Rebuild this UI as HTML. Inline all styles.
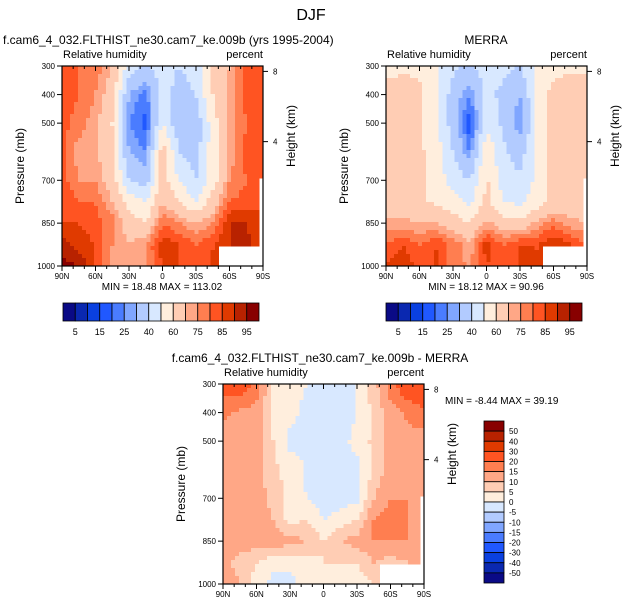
<!DOCTYPE html>
<html><head><meta charset="utf-8">
<style>
body{margin:0;background:#fff;width:622px;height:606px;overflow:hidden;font-family:"Liberation Sans",sans-serif}
svg{position:absolute;left:0;top:0}
</style></head>
<body>
<svg id="chart" width="622" height="606" viewBox="0 0 622 606"></svg>
<script>
const lats=[90,75,60,45,30,15,0,-15,-30,-45,-60,-75,-90];
const levels=[300,400,500,600,700,775,850,925,1000];
const modelRH=[
[80,80,78,70,45,38,45,40,45,60,70,82,85],
[82,80,75,65,30,22,45,35,40,60,72,82,85],
[82,78,72,60,25,18,50,32,32,55,72,80,85],
[82,72,72,60,30,25,65,40,35,55,72,82,85],
[82,75,75,65,40,35,65,50,40,55,75,80,85],
[85,80,80,70,55,50,70,60,50,65,80,82,85],
[85,85,82,78,65,60,80,75,70,75,90,90,85],
[92,88,85,75,70,75,88,85,80,85,90,92,85],
[97,95,85,72,70,75,85,85,80,85,90,90,85]];
const merraRH=[
[55,58,58,52,42,38,45,42,40,50,56,58,58],
[65,65,62,52,35,25,42,38,30,50,65,65,65],
[65,65,62,52,35,15,48,38,25,50,65,65,65],
[65,65,62,55,40,25,58,42,35,50,65,65,65],
[65,65,62,56,45,40,62,45,42,52,65,65,65],
[66,65,62,58,55,48,62,50,48,55,62,65,65],
[72,72,70,70,64,60,72,65,62,72,78,72,70],
[80,85,80,85,78,72,88,80,85,85,90,85,80],
[85,90,82,85,78,74,85,80,85,85,90,90,80]];
const diffRH=[
[22,25,18,5,3,0,-3,-5,0,8,18,25,28],
[16,14,13,4,2,-2,-5,-5,0,6,13,16,18],
[13,13,13,5,-2,0,-5,-2,2,6,13,13,13],
[13,13,13,6,3,-1,-5,-3,-2,6,13,13,13],
[12,12,13,8,3,0,-3,-2,-2,10,15,15,12],
[13,13,13,10,3,5,0,2,5,15,18,15,12],
[13,13,13,13,12,10,5,10,12,15,15,15,12],
[11,8,5,2,2,3,5,5,5,10,8,10,10],
[15,10,3,-2,-2,2,3,3,2,5,8,8,8]];
const rhLevels=[5,10,15,20,25,30,40,50,60,70,75,80,85,90,95];
const rhLabels=["5","15","25","40","60","75","85","95"];
const diffLevels=[-50,-40,-30,-20,-15,-10,-5,0,5,10,15,20,30,40,50];
const colors=["#0a0a86","#0a28b0","#0a40e0","#2058ff","#4a7cff","#80a6ff","#b2cbff","#d8e8ff","#ffeedd","#ffcdb4","#ffa786","#ff7e50","#ff5422","#e03a00","#b82200","#880000"];
const xTicks=["90N","60N","30N","0","30S","60S","90S"];
const pTicks=[300,400,500,700,850,1000];

const S=document.getElementById('chart');
const NS="http://www.w3.org/2000/svg";
function mk(tag,attrs,parent){const e=document.createElementNS(NS,tag);for(const k in attrs)e.setAttribute(k,attrs[k]);(parent||S).appendChild(e);return e;}
function txt(x,y,s,size,anchor,parent){const t=mk('text',{x:x,y:y,'font-size':size,'text-anchor':anchor||'start',fill:'#000'},parent);t.textContent=s;return t;}

function interp(grid,lat,p){
  let li=(90-lat)/15; li=Math.min(Math.max(li,0),11.999);
  let i0=Math.floor(li),fx=li-i0;
  let j0=0; while(j0<levels.length-2&&p>levels[j0+1])j0++;
  let fy=(p-levels[j0])/(levels[j0+1]-levels[j0]); fy=Math.min(Math.max(fy,0),1);
  const a=grid[j0][i0],b=grid[j0][i0+1],c=grid[j0+1][i0],d=grid[j0+1][i0+1];
  return a*(1-fx)*(1-fy)+b*fx*(1-fy)+c*(1-fx)*fy+d*fx*fy;
}
function colorFor(v,lv){let k=0;while(k<lv.length&&v>=lv[k])k++;return colors[k];}
function masked(lat,p){return (lat<-52&&lat>-85&&p>935)||(lat<-87&&p>690);}

function panel(name,x0,y0,grid,lv,title,titleX,titleAnchor){
  const W=201,H=200;
  const g=mk('g',{},S);
  
  
  const xs=lat=>x0+(90-lat)/180*W;
  const ys=p=>y0+(p-300)/700*H;
  const N=50,cw=W/N,ch=H/N;
  const field=mk('g',{'shape-rendering':'crispEdges'},g);
  
  
  for(let j=0;j<N;j++)for(let i=0;i<N;i++){
    const lat=90-(i+0.5)/N*180,p=300+(j+0.5)/N*700;
    if(masked(lat,p))continue;
    const v=interp(grid,lat,p);
    const r=mk('rect',{x:(xs(lat)-cw/2).toFixed(2),y:(ys(p)-ch/2).toFixed(2),width:(cw+0.3).toFixed(2),height:(ch+0.3).toFixed(2),fill:colorFor(v,lv)},field);
    
    
  }
  const fr=mk('rect',{x:x0,y:y0,width:W,height:H,fill:'none',stroke:'#000','stroke-width':1.2},g);
  
  
  for(let lat=90;lat>=-90;lat-=10){
    const major=lat%30===0;const L=major?5:3;
    mk('line',{x1:xs(lat),x2:xs(lat),y1:y0+H,y2:y0+H+L,stroke:'#000'},g);
    mk('line',{x1:xs(lat),x2:xs(lat),y1:y0,y2:y0+L,stroke:'#000'},g);
  }
  xTicks.forEach((s,k)=>{const t=txt(xs(90-k*30),y0+H+13,s,8,'middle',g);});
  pTicks.forEach(p=>{mk('line',{x1:x0-5,x2:x0,y1:ys(p),y2:ys(p),stroke:'#000'},g);
    const t=txt(x0-7,ys(p)+3,String(p),8,'end',g);});
  const pz=z=>1000*Math.exp(-z/7);
  [8,4].forEach(z=>{const y=ys(pz(z));mk('line',{x1:x0+W,x2:x0+W+5,y1:y,y2:y,stroke:'#000'},g);
    const t=txt(x0+W+10,y+3,String(z),8,'start',g);});
  const yt=txt(0,0,'Pressure (mb)',12,'middle',g);yt.setAttribute('transform',`translate(${x0-38},${y0+H/2}) rotate(-90)`);
  
  const ht=txt(0,0,'Height (km)',12,'middle',g);ht.setAttribute('transform',`translate(${x0+W+32},${y0+H/2-30}) rotate(-90)`);
  
  const l1=txt(x0+1,y0-8,'Relative humidity',11,'start',g);
  const l2=txt(x0+W,y0-8,'percent',11,'end',g);
  const tt=txt(titleX,y0-22,title,12,titleAnchor,g);
}
function hbar(name,x0,y0,lab){
  const g=mk('g',{},S);
  const w=196/16;
  colors.forEach((c,k)=>{const r=mk('rect',{x:x0+k*w,y:y0,width:w,height:18,fill:c,stroke:'#000','stroke-width':0.8},g);
    });
  lab.forEach((s,k)=>{const t=txt(x0+(1+2*k)*w,y0+32,s,9,'middle',g);});
}
const tD=txt(311,20,'DJF',16,'middle');
panel('model-panel',62,66,modelRH,rhLevels,'f.cam6_4_032.FLTHIST_ne30.cam7_ke.009b (yrs 1995-2004)',3,'start');
panel('merra-panel',386,66,merraRH,rhLevels,'MERRA',486,'middle');
panel('difference-panel',223,384,diffRH,diffLevels,'f.cam6_4_032.FLTHIST_ne30.cam7_ke.009b - MERRA',320,'middle');
let m=txt(162,290,'MIN =  18.48  MAX = 113.02',10,'middle');
m=txt(486,290,'MIN =  18.12  MAX =  90.96',10,'middle');
m=txt(445,404,'MIN =  -8.44  MAX =  39.19',10,'start');
hbar('model-colorbar',63,303,rhLabels);
hbar('merra-colorbar',386,303,rhLabels);
const vg=mk('g',{});
const vh=162/16;
colors.slice().reverse().forEach((c,k)=>{const r=mk('rect',{x:484,y:421+k*vh,width:20,height:vh,fill:c,stroke:'#000','stroke-width':0.8},vg);
  });
diffLevels.slice().reverse().forEach((v,k)=>{const t=txt(509,421+(k+1)*vh+3,String(v),8,'start',vg);});
</script>
</body></html>
